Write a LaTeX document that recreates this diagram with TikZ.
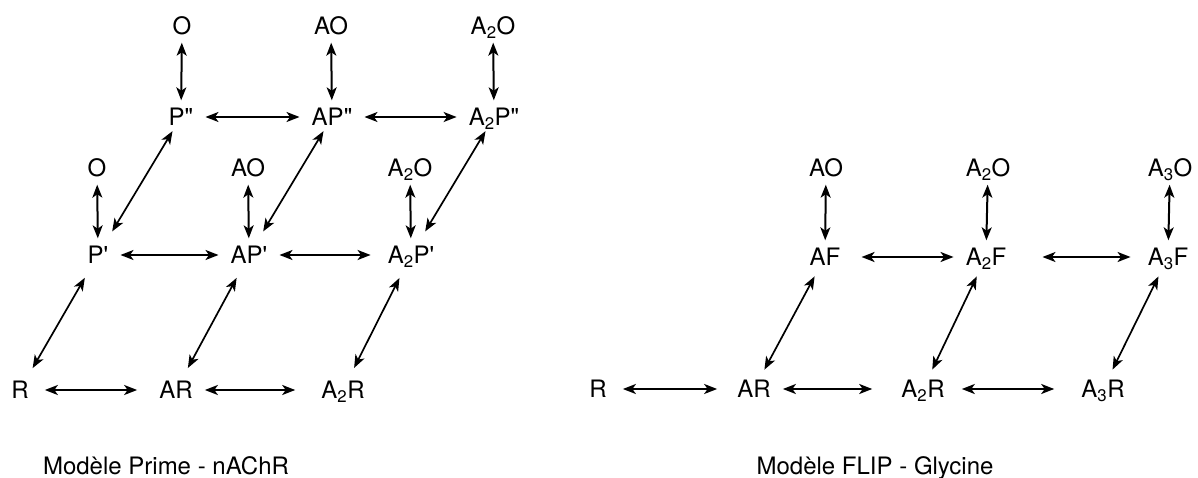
\documentclass[tikz,border=0pt]{standalone}
\usepackage{fontspec}
\setmainfont{TeX Gyre Heros}
\usetikzlibrary{arrows.meta}
\newcommand{\prm}{\textquotesingle}
\newcommand{\dprm}{\textquotedbl}

\begin{document}
\begin{tikzpicture}[x=1pt, y=-1pt,
    >={Stealth[length=13pt,width=10pt,inset=3.5pt]},
    st/.style={inner xsep=12pt, inner ysep=8pt, text height=17pt, text depth=0pt, font=\fontsize{24}{28}\selectfont},
    modeltitle/.style={inner sep=0pt, font=\fontsize{24}{28}\selectfont},
    eq/.style={<->, line width=2pt},
    dg/.style={<->, line width=1.7pt}]
    \useasboundingbox (0,0) rectangle (1198,478);

    % Prime model: open states (top)
    \node[st] (o2) at (182,26) {O};
    \node[st] (ao2) at (331,26) {AO};
    \node[st] (aao2) at (493,26) {A\textsubscript{2}O};

    % P'' states
    \node[st] (p2) at (181,117) {P\dprm};
    \node[st] (ap2) at (332,117) {AP\dprm};
    \node[st] (aap2) at (494,117) {A\textsubscript{2}P\dprm};

    % open states (middle)
    \node[st] (o1) at (97,168) {O};
    \node[st] (ao1) at (248,168) {AO};
    \node[st] (aao1) at (410,168) {A\textsubscript{2}O};

    % P' states
    \node[st] (p1) at (98,255) {P\prm};
    \node[st] (ap1) at (249,255) {AP\prm};
    \node[st] (aap1) at (411,255) {A\textsubscript{2}P\prm};

    % resting states
    \node[st] (r) at (20,390) {R};
    \node[st] (ar) at (176,390) {AR};
    \node[st] (aar) at (343,390) {A\textsubscript{2}R};

    % opening (vertical)
    \draw[eq] (o2) -- (p2);
    \draw[eq] (ao2) -- (ap2);
    \draw[eq] (aao2) -- (aap2);
    \draw[eq] (o1) -- (p1);
    \draw[eq] (ao1) -- (ap1);
    \draw[eq] (aao1) -- (aap1);

    % binding (horizontal)
    \draw[eq] (p2) -- (ap2);
    \draw[eq] (ap2) -- (aap2);
    \draw[eq] (p1) -- (ap1);
    \draw[eq, shorten >=5pt] (ap1) -- (aap1);
    \draw[eq, shorten <=4pt, shorten >=10pt] (r) -- (ar);
    \draw[eq, shorten >=14pt] (ar) -- (aar);

    % priming (diagonal)
    \draw[dg, shorten <=8pt, shorten >=-3pt] (p1) -- (p2);
    \draw[dg, shorten <=8pt, shorten >=-3pt] (ap1) -- (ap2);
    \draw[dg, shorten <=8pt, shorten >=-3pt] (aap1) -- (aap2);
    \draw[dg, shorten <=6pt, shorten >=7pt] (r) -- (p1);
    \draw[dg, shorten <=6pt, shorten >=7pt] (ar) -- (ap1);
    \draw[dg, shorten <=6pt, shorten >=7pt] (aar) -- (aap1);

    \node[modeltitle, anchor=base] (titleprime) at (166,474) {Modèle Prime - nAChR};

    % FLIP model: open states
    \node[st] (fao) at (826,168) {AO};
    \node[st] (faao) at (988,168) {A\textsubscript{2}O};
    \node[st] (faaao) at (1170,168) {A\textsubscript{3}O};

    % flipped states
    \node[st] (af) at (825,257) {AF};
    \node[st] (aaf) at (986,257) {A\textsubscript{2}F};
    \node[st] (aaaf) at (1168,257) {A\textsubscript{3}F};

    % resting states
    \node[st] (fr) at (598,389) {R};
    \node[st] (far) at (754,389) {AR};
    \node[st] (faar) at (923,389) {A\textsubscript{2}R};
    \node[st] (faaar) at (1103,389) {A\textsubscript{3}R};

    % opening
    \draw[eq] (fao) -- (af);
    \draw[eq] (faao) -- (aaf);
    \draw[eq] (faaao) -- (aaaf);

    % binding
    \draw[eq, shorten <=9pt] (af) -- (aaf);
    \draw[eq, shorten <=24pt, shorten >=5pt] (aaf) -- (aaaf);
    \draw[eq, shorten <=4pt, shorten >=8pt] (fr) -- (far);
    \draw[eq, shorten >=17pt] (far) -- (faar);
    \draw[eq, shorten <=5pt, shorten >=15pt] (faar) -- (faaar);

    % flipping
    \draw[dg, shorten <=3pt, shorten >=3pt] (far) -- (af);
    \draw[dg, shorten <=3pt, shorten >=3pt] (faar) -- (aaf);
    \draw[dg, shorten <=3pt, shorten >=3pt] (faaar) -- (aaaf);

    \node[modeltitle, anchor=base] (titleflip) at (875,474) {Modèle FLIP - Glycine};
\end{tikzpicture}
\end{document}
